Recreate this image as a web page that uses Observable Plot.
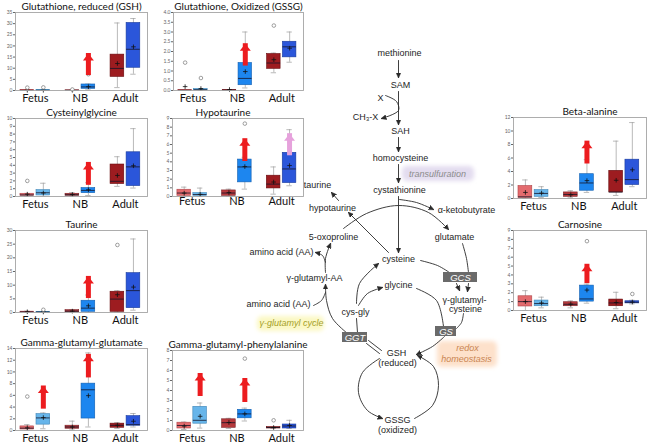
<!DOCTYPE html>
<html><head><meta charset="utf-8">
<script src="https://cdn.jsdelivr.net/npm/d3@7"></script>
<script src="https://cdn.jsdelivr.net/npm/@observablehq/plot@0.6"></script>
<style>
html,body{margin:0;padding:0;background:#fff}
#fig{position:relative;width:651px;height:442px;overflow:hidden;background:#fff}
#fig svg{position:absolute}
</style></head><body><div id="fig"></div>
<script>
// ---------- DATA ----------
const groups = ["Fetus", "NB", "Adult"];
// box order: Fetus ctrl, Fetus trt, NB ctrl, NB trt, Adult ctrl, Adult trt
const boxColors = ["#e36b6e", "#67b5ea", "#b6393c", "#1d86ef", "#9d1c20", "#2b56da"];
const boxEdges  = ["#b04448", "#3f86b8", "#7c2226", "#125fb0", "#66090c", "#183a9c"];
const arrowRed = "#ec1c1f", arrowPink = "#e6a2dc";

// stats rows: [lowWhisker, q1, median, q3, highWhisker, mean]
const gshStats = [[0,0,0.05,0.15,0.25,0.1],[0,0,0.05,0.15,0.3,0.1],[0,0,0.05,0.1,0.2,0.1],[0.3,0.75,1.6,2.7,2.9,1.7],[1.3,6.1,9.9,16.1,30.3,12.1],[7.3,10.2,18.5,30.3,32.3,19.6]];
const gshOutliers = [[0,1.3],[1,1.4],[2,0.45],[3,7.3]];
const gshArrows = [[3,9.4,16.6,"red"]];

const gssgStats = [[0,0,0.01,0.02,0.03,0.2],[0,0.01,0.04,0.08,0.1,0.1],[0,0,0.01,0.03,0.05,0.05],[0.13,0.27,0.62,1.41,3.0,0.97],[0.91,1.11,1.41,1.87,1.92,1.58],[1.45,1.7,2.24,2.5,3.0,2.17]];
const gssgOutliers = [[0,1.43],[1,0.64],[4,3.33]];
const gssgArrows = [[3,1.56,2.4,"red"]];

const cysglyStats = [[0,0.1,0.2,0.35,0.4,0.3],[0,0.13,0.48,0.82,1.7,0.45],[0.05,0.1,0.22,0.35,0.5,0.25],[0.13,0.43,0.78,1.08,1.77,0.87],[1.3,1.6,1.95,4.1,5.1,2.7],[1.08,1.34,3.8,5.67,8.7,3.94]];
const cysglyOutliers = [[0,2.0]];
const cysglyArrows = [[3,2.2,4.37,"red"]];

const hypotauStats = [[0,0.08,0.4,0.78,1.08,0.39],[0,0.08,0.23,0.39,0.97,0.25],[0,0.08,0.4,0.7,0.85,0.45],[0.85,1.63,3.41,4.26,4.53,3.45],[0.27,0.93,1.43,2.4,3.41,1.67],[1.24,1.55,3.18,5.04,7.71,3.57]];
const hypotauOutliers = [[3,8.41]];
const hypotauArrows = [[3,4.73,6.67,"red"],[5,5.39,7.25,"pink"]];

const taurineStats = [[0,0.1,0.2,0.3,0.5,0.25],[0,0.05,0.15,0.25,0.35,0.2],[0.05,0.1,0.5,0.85,1.0,0.5],[0,0.25,1.6,4.3,6.4,2.45],[0.1,0.25,4.9,7.6,8.0,6.5],[0.85,1.6,8.0,14.4,26.9,9.3]];
const taurineOutliers = [[1,1.0],[4,24.7]];
const taurineArrows = [[3,7.3,13.2,"red"]];

const ggGluStats = [[0,0.17,0.4,0.7,1.0,0.45],[0.3,1.0,2.15,2.8,3.0,2.2],[0.1,0.3,0.6,0.82,1.6,0.6],[0.6,2.04,6.95,8.0,13.25,5.95],[0.35,0.47,0.88,1.17,1.35,0.9],[0.6,0.82,1.0,2.45,2.9,1.58]];
const ggGluOutliers = [[0,5.8]];
const ggGluArrows = [[1,4.67,7.6,"red"],[3,10.0,13.0,"red"]];

const ggPheStats = [[0.1,0.2,0.5,0.78,0.85,0.44],[0.24,0.68,1.02,2.37,2.75,1.42],[0.2,0.27,0.78,1.12,1.22,0.8],[0.95,1.22,1.66,2.07,2.24,1.66],[0.2,0.2,0.3,0.34,0.34,0.3],[0.2,0.2,0.45,0.6,1.02,0.5]];
const ggPheOutliers = [[3,7.19],[4,1.02]];
const ggPheArrows = [[1,4.0,5.7,"red"],[3,3.4,5.2,"red"]];

const betaAlaStats = [[0,0.1,0.25,1.85,2.75,0.9],[0.15,0.25,0.75,1.25,1.75,0.8],[0.1,0.25,0.6,0.9,1.15,0.55],[0.9,1.15,2.3,3.6,5.75,2.65],[0.45,0.9,0.95,4.1,8.5,2.7],[1.75,2.0,2.8,5.75,11.25,4.25]];
const betaAlaOutliers = [];
const betaAlaArrows = [[3,6.0,8.5,"red"]];

const carnosineStats = [[0,0.45,1.0,1.6,2.23,1.0],[0.3,0.48,0.78,1.12,1.5,0.85],[0.3,0.48,0.7,0.93,1.08,0.72],[0.82,1.0,1.3,2.8,2.97,2.3],[0.2,0.48,0.85,1.23,2.05,0.9],[0.74,0.8,0.93,1.04,1.15,0.95]];
const carnosineOutliers = [[3,7.8],[5,1.86]];
const carnosineArrows = [[3,3.7,5.2,"red"]];

// panels: title, stats, y max, y tick step, frame box on page
const panels = [
  {title:"Glutathione, reduced (GSH)", stats:gshStats, outliers:gshOutliers, arrows:gshArrows, ymax:35, step:5, frame:[15,12,147,90]},
  {title:"Glutathione, Oxidized (GSSG)", stats:gssgStats, outliers:gssgOutliers, arrows:gssgArrows, ymax:4, step:0.5, fmt:".1f", frame:[173,12,303,90]},
  {title:"Cysteinylglycine", stats:cysglyStats, outliers:cysglyOutliers, arrows:cysglyArrows, ymax:10, step:1, frame:[15,118,147,196]},
  {title:"Hypotaurine", stats:hypotauStats, outliers:hypotauOutliers, arrows:hypotauArrows, ymax:9, step:1, frame:[172,118,303,196], titleDx:-15, labelPad:1},
  {title:"Taurine", stats:taurineStats, outliers:taurineOutliers, arrows:taurineArrows, ymax:30, step:5, frame:[15,230,147,312]},
  {title:"Gamma-glutamyl-glutamate", stats:ggGluStats, outliers:ggGluOutliers, arrows:ggGluArrows, ymax:14, step:2, frame:[15,348,147,430]},
  {title:"Gamma-glutamyl-phenylalanine", stats:ggPheStats, outliers:ggPheOutliers, arrows:ggPheArrows, ymax:8, step:1, frame:[172,350,303,430]},
  {title:"Beta-alanine", stats:betaAlaStats, outliers:betaAlaOutliers, arrows:betaAlaArrows, ymax:12, step:2, frame:[513,117,646,198], titleDx:10},
  {title:"Carnosine", stats:carnosineStats, outliers:carnosineOutliers, arrows:carnosineArrows, ymax:9, step:1, frame:[513,230,646,310]}
];

// pathway diagram (page pixel layout)
const pathwayLabels = [
  ["methionine",399,53],["SAM",400,85],["X",380,98],["CH\u2083-X",365,117],["SAH",400,131],
  ["homocysteine",400,158],["cystathionine",399,190],["taurine",317,185],["hypotaurine",332,208],
  ["\u03b1-ketobutyrate",466,210],["5-oxoproline",333,237],["glutamate",454,237],["amino acid (AA)",281,252],
  ["cysteine",398,259],["\u03b3-glutamyl-AA",314,278],["glycine",398,285],["\u03b3-glutamyl-",464,300],["cysteine",465,309],
  ["amino acid (AA)",278,304],["cys-gly",355,312],["GSH",396,353],["(reduced)",397,363],["GSSG",397,420],["(oxidized)",397,430]
];
const enzymes = [["GCS",443,477,272,282],["GS",435,456,326,336],["GGT",342,367,332,342]];
const highlights = [
  {x1:402,x2:474,y1:166,y2:181,bg:"#e3dcef"},
  {x1:257,x2:324,y1:316,y2:331,bg:"#fbf8c4"},
  {x1:437,x2:497,y1:341,y2:367,bg:"#fde1cb"}
];
const notes = [
  ["transulfuration",437,174,"#8c8c8c"],["\u03b3-glutamyl cycle",291,323,"#a5a02a"],
  ["redox",467,348,"#c98552"],["homeostasis",466,359,"#c98552"]
];
const connectors = [
  {pts:[[398,60],[398,77]],head:true},
  {pts:[[398,91],[398,124]],head:true},
  {pts:[[385,95],[396,101],[398,110],[381,118]],head:true},
  {pts:[[398,137],[398,151]],head:true},
  {pts:[[398,164],[398,182]],head:true},
  {pts:[[398,196],[398,252]],head:true},
  {pts:[[399,199],[416,202],[433,209]],head:true},
  {pts:[[343,228],[366,213],[398,205],[428,212],[448,229]],head:true},
  {pts:[[388,252],[348,212]],head:true},
  {pts:[[338,200],[331,192]],head:true},
  {pts:[[462,243],[466,258],[468,272]],head:false},
  {pts:[[420,260],[437,265],[449,272]],head:false},
  {pts:[[456,283],[459,290]],head:true},
  {pts:[[468,283],[467,291]],head:true},
  {pts:[[356,303],[359,283],[378,263]],head:true},
  {pts:[[358,305],[367,293],[382,287]],head:true},
  {pts:[[416,288],[436,300],[443,326]],head:false},
  {pts:[[463,313],[461,322],[456,328]],head:false},
  {pts:[[444,336],[432,346],[416,354]],head:true},
  {pts:[[381,350],[368,340]],head:false},
  {pts:[[379,353],[366,343]],head:false},
  {pts:[[356,318],[357,332]],head:false},
  {pts:[[347,333],[332,318],[326,300],[325,284]],head:true},
  {pts:[[313,305],[321,300],[325,292]],head:false},
  {pts:[[325,272],[325,258],[330,243]],head:true},
  {pts:[[325,262],[322,255],[315,252]],head:true},
  {pts:[[379,358],[362,372],[358,392],[367,410],[382,418]],head:true},
  {pts:[[414,418],[432,405],[438,385],[433,366],[417,355]],head:true}
];

// ---------- DRAW ----------
const fig = document.getElementById("fig");
const sans = "'Liberation Sans', Arial, sans-serif";

function arrowMarker(color) {
  const m = d3.create("svg:marker")
    .attr("viewBox", "0 -5 10 10").attr("refX", 9).attr("refY", 0)
    .attr("markerWidth", 6).attr("markerHeight", 6).attr("orient", "auto");
  m.append("path").attr("d", "M0,-4.5L10,0L0,4.5Z").attr("fill", color);
  return m.node();
}

function diagram(marker) {
  const rows = connectors.flatMap((c, k) => c.pts.map(([x, y]) => ({k, x, y, head: c.head})));
  return Plot.plot({
    width: 651, height: 442, margin: 0,
    x: {type: "identity"}, y: {type: "identity"},
    style: {background: "transparent", overflow: "visible"},
    marks: [
      Plot.rect(highlights, {x1: "x1", x2: "x2", y1: "y1", y2: "y2", fill: d => d.bg, rx: 5}),
      Plot.line(rows.filter(d => d.head), {x: "x", y: "y", z: "k", curve: "catmull-rom", stroke: "#2a2a2a", strokeWidth: 0.9, markerEnd: marker}),
      Plot.line(rows.filter(d => !d.head), {x: "x", y: "y", z: "k", curve: "catmull-rom", stroke: "#2a2a2a", strokeWidth: 0.9}),
      Plot.rect(enzymes, {x1: d => d[1], x2: d => d[2], y1: d => d[3], y2: d => d[4], fill: "#6a6a6a"}),
      Plot.text(enzymes, {x: d => (d[1] + d[2]) / 2, y: d => (d[3] + d[4]) / 2, text: d => d[0], fill: "white", fontStyle: "italic", fontSize: 9.5, fontFamily: sans}),
      Plot.text(pathwayLabels, {x: d => d[1], y: d => d[2], text: d => d[0], fill: "#1e1e1e", fontSize: 9, fontFamily: sans}),
      Plot.text(notes, {x: d => d[1], y: d => d[2], text: d => d[0], fill: d => d[3], fontStyle: "italic", fontSize: 9, fontFamily: sans})
    ]
  });
}
let dsvg;
try { dsvg = diagram(arrowMarker); } catch (e) { dsvg = diagram("arrow"); }
// soften highlight boxes
const defs = d3.select(dsvg).insert("defs", ":first-child");
defs.append("filter").attr("id", "soft").attr("x", "-20%").attr("y", "-40%").attr("width", "140%").attr("height", "180%")
  .append("feGaussianBlur").attr("stdDeviation", 2);
d3.select(dsvg).selectAll("g[aria-label=rect]").filter((d, i) => i === 0).attr("filter", "url(#soft)");
dsvg.style.left = "0px"; dsvg.style.top = "0px";
fig.appendChild(dsvg);

const headSymbol = {draw(ctx) { ctx.moveTo(0, 0); ctx.lineTo(5.5, 7); ctx.lineTo(-5.5, 7); ctx.closePath(); }};
const pairOffset = 0.178, half = 0.152, cap = 0.06;

function makePanel(p) {
  const [x0, y0, x1, y1] = p.frame;
  const mL = 15, mR = 4, mT = 18, mB = 18;
  const boxes = p.stats.map((s, i) => ({
    pos: Math.floor(i / 2) + (i % 2 ? 1 : -1) * pairOffset,
    lo: s[0], q1: s[1], med: s[2], q3: s[3], hi: s[4], mean: s[5],
    fill: boxColors[i], edge: boxEdges[i]
  }));
  const outs = p.outliers.map(([i, v]) => ({pos: boxes[i].pos, v}));
  const arrs = p.arrows.map(([i, a, b, c]) => ({pos: boxes[i].pos, from: a, to: b, color: c === "pink" ? arrowPink : arrowRed}));
  const fmt = p.fmt ? d3.format(p.fmt) : (d => d);
  const svg = Plot.plot({
    width: x1 - x0 + mL + mR, height: y1 - y0 + mT + mB,
    marginLeft: mL, marginRight: mR, marginTop: mT, marginBottom: mB,
    x: {domain: [-0.44, 2.49], label: null},
    y: {domain: [0, p.ymax], label: null},
    color: {type: "identity"},
    style: {background: "transparent", overflow: "visible", fontFamily: "Lato, sans-serif"},
    marks: [
      Plot.axisY(d3.range(0, p.ymax + 1e-9, p.step), {tickSize: 2, tickPadding: 1, fontSize: 5, color: "#666", tickFormat: fmt, label: null}),
      Plot.axisX([0, 1, 2], {tickFormat: i => groups[i], tickSize: 0, tickPadding: p.labelPad ?? 4, fontSize: 11, color: "#111", label: null}),
      Plot.ruleX(boxes, {x: "pos", y1: "lo", y2: "hi", stroke: "#9c9c9c", strokeWidth: 0.7}),
      Plot.ruleY(boxes, {y: "lo", x1: d => d.pos - cap, x2: d => d.pos + cap, stroke: "#9c9c9c", strokeWidth: 0.7}),
      Plot.ruleY(boxes, {y: "hi", x1: d => d.pos - cap, x2: d => d.pos + cap, stroke: "#9c9c9c", strokeWidth: 0.7}),
      Plot.rect(boxes, {x1: d => d.pos - half, x2: d => d.pos + half, y1: "q1", y2: "q3", fill: "fill", stroke: "edge", strokeWidth: 0.6}),
      Plot.ruleY(boxes, {y: "med", x1: d => d.pos - half, x2: d => d.pos + half, stroke: "#15152a", strokeWidth: 0.8}),
      Plot.dot(boxes, {x: "pos", y: "mean", symbol: "plus", r: 1.6, stroke: "#111", strokeWidth: 0.8}),
      Plot.dot(outs, {x: "pos", y: "v", r: 1.8, stroke: "#777", fill: "white", strokeWidth: 0.7}),
      Plot.ruleX(arrs, {x: "pos", y1: "from", y2: "to", insetTop: 6, stroke: "color", strokeWidth: 5}),
      Plot.dot(arrs, {x: "pos", y: "to", symbol: headSymbol, fill: "color", stroke: "none"}),
      Plot.frame({stroke: "#a5a5a5", strokeWidth: 0.9}),
      Plot.text([p.title], {text: d => d, frameAnchor: "top", dy: -6, dx: p.titleDx || 0, fontSize: 10, fill: "#111", lineAnchor: "middle"})
    ]
  });
  svg.style.left = (x0 - mL) + "px";
  svg.style.top = (y0 - mT) + "px";
  fig.appendChild(svg);
}
panels.forEach(makePanel);
</script></body></html>
